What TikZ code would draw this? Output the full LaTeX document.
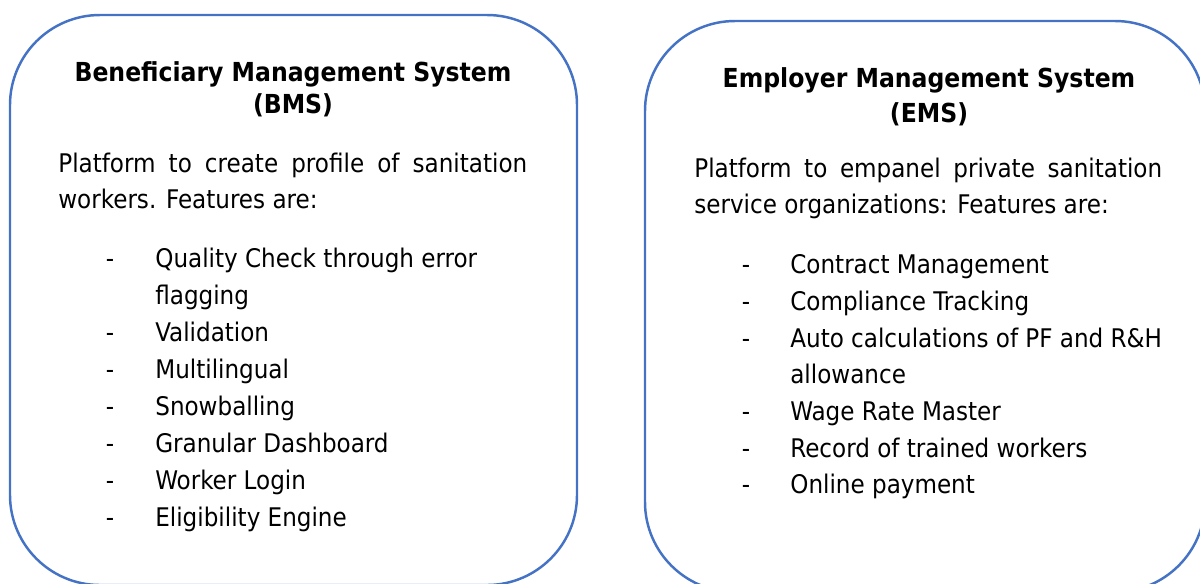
\documentclass[tikz,border=0pt]{standalone}
\usepackage{fontspec}
\setmainfont{DejaVu Sans Condensed}
\usepackage{tikz}
\usetikzlibrary{positioning}
\definecolor{boxblue}{HTML}{4472C4}

\begin{document}
\begin{tikzpicture}[
        x=0.02cm, y=-0.02cm,
        panel/.style = {draw=boxblue, line width=1.4pt, rounded corners=1.8cm},
        head/.style = {anchor=base, inner sep=0pt, font=\fontsize{14.9}{21}\selectfont\bfseries},
        body/.style = {anchor=base west, inner sep=0pt, font=\fontsize{14.6}{21}\selectfont},
        dashmark/.style = {anchor=base, inner sep=0pt, font=\fontsize{14.6}{21}\selectfont},
        ]
        \useasboundingbox (0,0) rectangle (1200,583);
        \clip (0,0) rectangle (1200,583);

        % left box
        \draw[panel] (10,15) rectangle (577,585);
        \node[head](bmsa) at (293,81) {Beneficiary Management System};
        \node[head](bmsb) at (293,113) {(BMS)};
        \node[body](bmsp) at (58,172) {\makebox[9.38cm][s]{Platform to create profile of sanitation}};
        \node[body](bmsq) at (58,208) {workers. Features are:};

        \node[dashmark](d1) at (110,267) {-};
        \node[body](f1) at (155,267) {Quality Check through error};
        \node[body](f1b) at (155,304) {flagging};
        \node[dashmark](d2) at (110,341) {-};
        \node[body](f2) at (155,341) {Validation};
        \node[dashmark](d3) at (110,378) {-};
        \node[body](f3) at (155,378) {Multilingual};
        \node[dashmark](d4) at (110,415) {-};
        \node[body](f4) at (155,415) {Snowballing};
        \node[dashmark](d5) at (110,452) {-};
        \node[body](f5) at (155,452) {Granular Dashboard};
        \node[dashmark](d6) at (110,489) {-};
        \node[body](f6) at (155,489) {Worker Login};
        \node[dashmark](d7) at (110,526) {-};
        \node[body](f7) at (155,526) {Eligibility Engine};

        % right box
        \draw[panel] (645,21) rectangle (1205,592);
        \node[head](emsa) at (929,87) {Employer Management System};
        \node[head](emsb) at (929,122) {(EMS)};
        \node[body](emsp) at (694,177) {\makebox[9.36cm][s]{Platform to empanel private sanitation}};
        \node[body](emsq) at (694,213) {service organizations: Features are:};

        \node[dashmark](e1) at (746,273) {-};
        \node[body](g1) at (790,273) {Contract Management};
        \node[dashmark](e2) at (746,310) {-};
        \node[body](g2) at (790,310) {Compliance Tracking};
        \node[dashmark](e3) at (746,347) {-};
        \node[body](g3) at (790,347) {Auto calculations of PF and R\&H};
        \node[body](g3b) at (790,383) {allowance};
        \node[dashmark](e4) at (746,420) {-};
        \node[body](g4) at (790,420) {Wage Rate Master};
        \node[dashmark](e5) at (746,457) {-};
        \node[body](g5) at (790,457) {Record of trained workers};
        \node[dashmark](e6) at (746,493) {-};
        \node[body](g6) at (790,493) {Online payment};

        \end{tikzpicture}
\end{document}
